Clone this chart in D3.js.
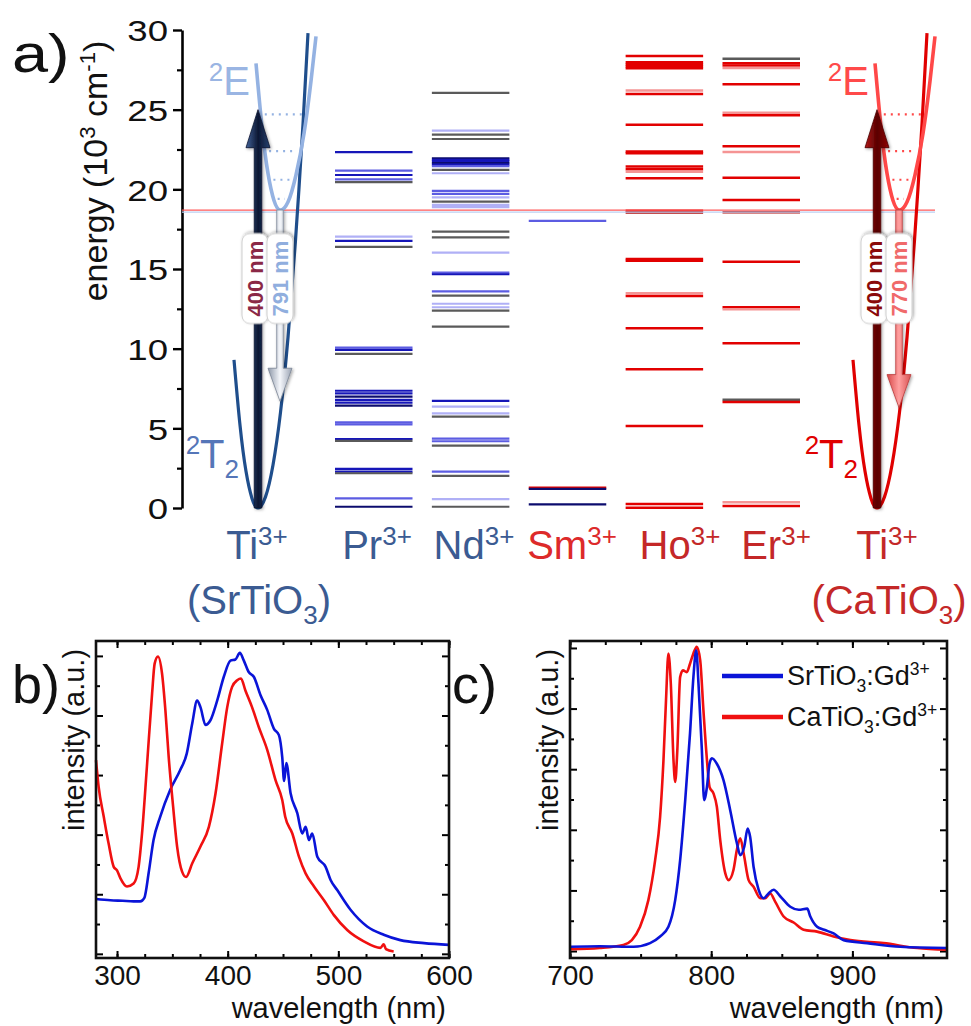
<!DOCTYPE html>
<html>
<head>
<meta charset="utf-8">
<script src="https://cdn.jsdelivr.net/npm/d3@7"></script>
<style>
  body { margin: 0; background: #fff; }
  svg { display: block; font-family: "Liberation Sans", Arial, sans-serif; }
</style>
</head>
<body>
<svg id="fig" width="971" height="1026"></svg>
<script>
// ---------- data: panel a (energy levels, 10^3 cm^-1) ----------
const ions = ["Pr", "Nd", "Sm", "Ho", "Er"];
const energyTicks = [0, 5, 10, 15, 20, 25, 30];

// [energy, tone]
const prLevels = [
  [22.33, "dark"], [21.17, "mid"], [20.9, "dark"], [20.63, "mid"], [20.45, "grey"],
  [17.03, "light"], [16.76, "dark"], [16.39, "grey"],
  [10.06, "mid"], [9.92, "dark"], [9.67, "grey"],
  [7.36, "dark"], [7.2, "dark"], [6.99, "navy"], [6.78, "dark"], [6.61, "dark"], [6.42, "navy"],
  [5.38, "mid"], [5.25, "mid"],
  [4.33, "dark"], [4.21, "grey"],
  [2.45, "dark"], [2.28, "dark"], [2.18, "grey"],
  [0.61, "mid"], [0.08, "navy"]
];
const ndLevels = [
  [26.05, "grey"],
  [23.69, "light"], [23.43, "grey"], [23.16, "grey"],
  [21.95, "navy"], [21.85, "dark"], [21.75, "dark"], [21.65, "navy"], [21.55, "dark"], [21.45, "mid"],
  [21.22, "grey"], [21.01, "light"],
  [19.9, "mid"], [19.71, "mid"], [19.5, "light"], [19.23, "grey"], [19.02, "light"], [18.88, "light"],
  [17.35, "grey"], [16.99, "grey"],
  [16.03, "light"],
  [14.77, "mid"], [14.67, "dark"],
  [13.6, "mid"], [13.33, "grey"],
  [12.82, "light"], [12.6, "light"], [12.39, "grey"],
  [11.38, "grey"],
  [6.72, "dark"], [6.36, "light"], [5.94, "light"], [5.73, "grey"],
  [4.35, "mid"], [4.19, "mid"], [3.91, "grey"],
  [2.28, "mid"], [2.01, "grey"],
  [0.56, "light"], [0.08, "grey"]
];
const smLevels = [[18.02, "mid"], [1.28, "red"], [1.2, "navy"], [0.23, "navy"]];
const hoLevels = [
  [28.37, "red"], [27.98, "red"], [27.85, "red"], [27.72, "red"], [27.6, "red"],
  [26.2, "pale"], [25.99, "red"],
  [24.06, "red"],
  [22.37, "red"], [22.27, "red"],
  [21.43, "red"], [21.26, "red"], [21.11, "pale"], [20.7, "red"],
  [18.66, "red"], [18.54, "dred"],
  [15.62, "red"], [15.52, "red"],
  [13.48, "pale"], [13.3, "red"],
  [11.28, "red"],
  [8.71, "red"],
  [5.15, "red"],
  [0.25, "red"], [0.02, "red"]
];
const erLevels = [
  [28.19, "grey"], [27.92, "red"], [27.77, "red"], [27.62, "pale"],
  [26.6, "red"],
  [24.81, "pale"], [24.65, "red"],
  [22.7, "red"], [22.35, "pale"],
  [20.73, "red"],
  [19.33, "red"],
  [18.56, "dred"],
  [15.46, "red"],
  [12.6, "red"], [12.47, "pale"],
  [10.34, "red"],
  [6.8, "grey"], [6.65, "red"],
  [0.36, "pale"], [0.12, "red"]
];

// Ti3+ configurational diagrams: [coordinate q, energy]
const hosts = ["SrTiO3", "CaTiO3"];
const groundWell = [[-0.48, 9.3], [-0.36, 5.2], [-0.24, 2.3], [-0.12, 0.6], [0, 0], [0.15, 0.7],
  [0.3, 2.7], [0.45, 6.0], [0.6, 10.7], [0.75, 16.8], [0.9, 24.1], [1.0, 29.8]];
const excitedWell = [[-0.04, 27.9], [0.08, 23.9], [0.2, 21.0], [0.32, 19.3], [0.44, 18.7],
  [0.6, 19.2], [0.76, 20.9], [0.92, 23.5], [1.06, 26.8], [1.16, 29.6]];
const vibLevels = [24.7, 22.4, 20.6, 19.4];
const crossingEnergy = 18.7;
const excitationNm = [400, 400];
const emissionNm = [791, 770];
const emissionEnd = [6.7, 6.3];

// ---------- data: panel b (excitation spectra) [nm, intensity] ----------
const bTicks = [300, 400, 500, 600];
const excSr = [[281,0.92],[294,0.9],[305,0.89],[315,0.88],[321,0.88],[324.7,0.94],[328.6,1.36],[333,1.91],
  [339,2.3],[348,2.75],[357,3.08],[363,3.36],[368,3.87],[372.4,4.25],[375.4,4.14],[380,3.84],[384.4,3.92],
  [390.5,4.25],[396.5,4.65],[402.5,4.92],[407,4.94],[411,5.05],[414.6,4.92],[419,4.73],[423.6,4.65],
  [429.7,4.34],[435.8,4.09],[441.7,3.78],[446.3,3.67],[449.3,3.3],[451,2.9],[453,3.2],[456.8,2.7],
  [462.9,2.36],[467.4,2.02],[470.5,2.13],[473.4,1.91],[476.4,2.02],[481,1.63],[488.5,1.46],[493,1.24],
  [499,1.07],[511,0.74],[526,0.46],[541,0.32],[556,0.23],[577.5,0.18],[600,0.15]];
const excCa = [[281,3.25],[283.4,2.8],[288,2.3],[292.4,1.85],[297,1.46],[300,1.4],[303,1.27],[309,1.13],
  [315,1.18],[319.5,1.46],[322.6,2.02],[327,3.14],[331.7,4.37],[334,4.87],[337,4.99],[340.7,4.7],
  [343.7,4.09],[346.7,3.3],[350.7,2.47],[354.3,1.8],[358.8,1.38],[362.4,1.29],[368,1.52],[375.4,1.8],
  [383,2.13],[389,2.69],[395,3.53],[399.6,4.14],[404,4.48],[408.6,4.59],[412,4.62],[416,4.42],[422,4.14],
  [428,3.81],[435.8,3.42],[443.3,2.91],[449.3,2.58],[452,2.3],[458.4,2.02],[464.4,1.63],[470.4,1.35],
  [478,1.13],[487,0.9],[496,0.65],[508,0.4],[523,0.21],[538,0.1],[541,0.16],[543,0.08],[550,0.04]];

// ---------- data: panel c (emission spectra) [nm, intensity] ----------
const cTicks = [700, 800, 900];
const emSr = [[700,0.07],[721,0.08],[745,0.07],[756.7,0.13],[763.8,0.24],[769.7,0.4],[774.5,0.84],[778,1.5],
  [781.6,2.49],[785,3.59],[787.4,4.52],[789.4,4.96],[791,4.41],[793.4,3.31],[795,2.49],[797,2.71],
  [798.8,3.09],[800.5,3.18],[804,3.09],[808.7,2.82],[813.5,2.32],[818.2,1.78],[820.6,1.58],[823.4,1.72],
  [825.8,2.02],[827.6,1.88],[830,1.39],[833.6,1.01],[837.1,0.87],[840.6,0.95],[844.2,1.01],[849,0.9],
  [856,0.73],[862,0.68],[868,0.7],[870.2,0.57],[875,0.4],[880,0.35],[886.7,0.29],[893.8,0.18],
  [910.4,0.13],[934,0.07],[967,0.05]];
const emCa = [[700,0.03],[721,0.05],[737.8,0.1],[743.8,0.18],[749.6,0.4],[755.5,0.84],[760.3,1.5],[763.8,2.21],
  [766.2,3.15],[768,4.14],[769.7,4.91],[771.4,4.41],[773.3,3.15],[774.5,2.79],[776,3.31],[778,4.52],
  [780,4.63],[782.7,4.6],[785,4.74],[787.4,4.91],[789.8,5.02],[792.2,4.8],[794.5,3.97],[797,3.15],
  [798.8,2.71],[801.6,2.6],[804,2.38],[806.4,1.83],[810,1.28],[812.3,1.17],[815.8,1.34],[818.2,1.67],
  [820.6,1.86],[823,1.61],[826.5,1.17],[830,1.06],[834.8,0.87],[838.3,0.87],[841.8,0.95],[845.4,0.81],
  [851.3,0.57],[858.4,0.47],[865.5,0.35],[875,0.32],[886.7,0.24],[898.6,0.18],[922,0.13],[946,0.05],[967,0.02]];

// ---------- helpers ----------
const svg = d3.select("#fig");
svg.append("rect").attr("width", 971).attr("height", 1026).attr("fill", "#fff");
const defs = svg.append("defs");
defs.append("filter").attr("id", "shadow")
  .attr("x", "-50%").attr("y", "-30%").attr("width", "200%").attr("height", "160%")
  .append("feDropShadow").attr("dx", 1.2).attr("dy", 1.2).attr("stdDeviation", 1.4)
  .attr("flood-color", "#000").attr("flood-opacity", 0.35);

function gradient(id, stops) {
  const g = defs.append("linearGradient").attr("id", id)
    .attr("x1", 0).attr("x2", 1).attr("y1", 0).attr("y2", 0);
  stops.forEach((c, i) => g.append("stop").attr("offset", i / (stops.length - 1)).attr("stop-color", c));
}

// text with super/subscripts: parts = [[text, "sup"|"sub"|undefined], ...]
function rich(sel, parts, fs) {
  let shift = 0;
  parts.forEach(([txt, kind]) => {
    const target = kind === "sup" ? -0.36 * fs : kind === "sub" ? 0.25 * fs : 0;
    const t = sel.append("tspan").text(txt).attr("dy", target - shift);
    if (kind) t.attr("font-size", fs * 0.65);
    shift = target;
  });
  return sel;
}

function drawArrow(g, x, y0, y1, shaftW, headW, headL, fill, stroke) {
  const dir = Math.sign(y1 - y0);
  const yb = y1 - dir * headL;
  const p = d3.path();
  p.moveTo(x - shaftW / 2, y0);
  p.lineTo(x - shaftW / 2, yb);
  p.lineTo(x - headW / 2, yb);
  p.lineTo(x, y1);
  p.lineTo(x + headW / 2, yb);
  p.lineTo(x + shaftW / 2, yb);
  p.lineTo(x + shaftW / 2, y0);
  p.closePath();
  g.append("path").attr("d", p.toString()).attr("fill", fill)
    .attr("stroke", stroke).attr("stroke-width", 0.8).attr("filter", "url(#shadow)");
}

function tag(g, x, y, txt, color) {
  const t = g.append("g").attr("transform", `translate(${x},${y}) rotate(-90)`);
  t.append("rect").attr("x", -45).attr("y", -13).attr("width", 90).attr("height", 26).attr("rx", 8)
    .attr("fill", "#fff").attr("stroke", "#cfcfcf").attr("filter", "url(#shadow)");
  t.append("text").attr("text-anchor", "middle").attr("dy", "0.36em")
    .attr("font-size", 22).attr("font-weight", "bold").attr("fill", color).text(txt);
}

// q values where the well crosses energy e on each side of its minimum
function wellCrossings(well, e) {
  const vi = d3.minIndex(well, d => d[1]);
  const interp = (a, b) => a[0] + (e - a[1]) / (b[1] - a[1]) * (b[0] - a[0]);
  let qa = well[0][0], qb = well[well.length - 1][0];
  for (let k = 0; k < vi; k++) if (well[k][1] >= e && well[k + 1][1] <= e) qa = interp(well[k], well[k + 1]);
  for (let k = vi; k < well.length - 1; k++) if (well[k][1] <= e && well[k + 1][1] >= e) qb = interp(well[k], well[k + 1]);
  return [qa, qb];
}

// ---------- panel a ----------
const gA = svg.append("g");
const yE = d3.scaleLinear().domain([0, 30]).range([508, 30]);
const axisX = 182;

const axA = gA.append("g").attr("transform", `translate(${axisX},0)`)
  .call(d3.axisLeft(yE).tickValues(energyTicks).tickSize(9).tickSizeOuter(0).tickPadding(6));
axA.select(".domain").attr("stroke-width", 2.6);
axA.selectAll(".tick line").attr("stroke-width", 2.4);
axA.selectAll(".tick text")
  .attr("x", 0).attr("dy", "0.36em")
  .attr("transform", "translate(-14,0) scale(1.22,1)")
  .style("font-family", "'Liberation Sans', Arial, sans-serif")
  .attr("font-size", 30).attr("fill", "#111");
const axAm = gA.append("g").attr("transform", `translate(${axisX},0)`)
  .call(d3.axisLeft(yE).tickValues(d3.range(2.5, 30, 5)).tickSize(5).tickFormat(""));
axAm.select(".domain").remove();
axAm.selectAll(".tick line").attr("stroke-width", 2.2);

rich(gA.append("text")
  .attr("transform", "translate(107,171) rotate(-90)")
  .attr("text-anchor", "middle").attr("font-size", 34).attr("fill", "#111"),
  [["energy (10"], ["3", "sup"], [" cm"], ["-1", "sup"], [")"]], 34);

gA.append("text").attr("transform", "translate(12,72) scale(1.2,1)")
  .attr("font-size", 54).attr("fill", "#111").text("a)");

// lanthanide levels
const colX = d3.scaleBand().domain(ions).range([335, 800]).paddingInner(0.2);
const toneColor = d3.scaleOrdinal()
  .domain(["navy", "dark", "mid", "light", "grey", "red", "pale", "dred"])
  .range(["#0c0c6e", "#1616b8", "#5c5ce2", "#b0b0f6", "#5a5a5a", "#e20000", "#f59494", "#b21010"]);
const levelSets = [prLevels, ndLevels, smLevels, hoLevels, erLevels];
ions.forEach((ion, i) => {
  gA.append("g").selectAll("line").data(levelSets[i]).join("line")
    .attr("x1", colX(ion)).attr("x2", colX(ion) + colX.bandwidth())
    .attr("y1", d => yE(d[0])).attr("y2", d => yE(d[0]))
    .attr("stroke", d => toneColor(d[1])).attr("stroke-width", i >= 3 ? 2.5 : 2.2);
});

// crossing line
gA.append("line").attr("x1", axisX).attr("x2", 935)
  .attr("y1", yE(crossingEnergy) + 2).attr("y2", yE(crossingEnergy) + 2)
  .attr("stroke", "#bcd0f2").attr("stroke-width", 1.2);
gA.append("line").attr("x1", axisX).attr("x2", 935)
  .attr("y1", yE(crossingEnergy)).attr("y2", yE(crossingEnergy))
  .attr("stroke", "#ff5a5a").attr("stroke-width", 1.3);

// Ti3+ configurational diagrams
const tiCenter = [258, 877];
const qUnit = 50;
const tiStyle = [
  { ground: "#1f4e8c", excited: "#94b2e2",
    up: ["#43639a", "#0b1733", "#26406f"], upStroke: "#0a1430",
    down: ["#8d97a8", "#f5f7fb", "#9aa3b3"], downStroke: "#7a8494",
    upText: "#8a2846", downText: "#90aede", eLabel: "#9ab5e3", tLabel: "#5576b8" },
  { ground: "#e00000", excited: "#ff4848",
    up: ["#b01818", "#5a0000", "#8e0808"], upStroke: "#4a0000",
    down: ["#d84848", "#ffa0a0", "#d85050"], downStroke: "#b83a3a",
    upText: "#8a0a0a", downText: "#f06a6a", eLabel: "#ff4a4a", tLabel: "#e00000" }
];
hosts.forEach((host, i) => {
  const st = tiStyle[i];
  gradient("up" + i, st.up);
  gradient("down" + i, st.down);
  const qx = d3.scaleLinear().domain([0, 1]).range([tiCenter[i], tiCenter[i] + qUnit]);
  const well = d3.line().x(d => qx(d[0])).y(d => yE(d[1])).curve(d3.curveNatural);
  const g = gA.append("g");

  g.append("path").attr("d", well(groundWell)).attr("fill", "none")
    .attr("stroke", st.ground).attr("stroke-width", 3.2);
  g.append("path").attr("d", well(excitedWell)).attr("fill", "none")
    .attr("stroke", st.excited).attr("stroke-width", 3.6);

  vibLevels.forEach(e => {
    const [qa, qb] = wellCrossings(excitedWell, e);
    g.append("line").attr("x1", qx(qa) + 4).attr("x2", qx(qb) - 4)
      .attr("y1", yE(e)).attr("y2", yE(e))
      .attr("stroke", st.excited).attr("stroke-width", 2.2).attr("stroke-dasharray", "2,5");
  });

  const vertex = excitedWell[d3.minIndex(excitedWell, d => d[1])];
  const eTop = 1e4 / excitationNm[i];
  drawArrow(g, qx(0), yE(0), yE(eTop), 7.5, 24, 38, `url(#up${i})`, st.upStroke);
  drawArrow(g, qx(vertex[0]), yE(vertex[1]), yE(emissionEnd[i]), 6.5, 24, 33, `url(#down${i})`, st.downStroke);

  tag(g, qx(0) - 3, yE(14.4), excitationNm[i] + " nm", st.upText);
  tag(g, qx(vertex[0]), yE(14.4), emissionNm[i] + " nm", st.downText);

  rich(g.append("text").attr("x", qx(-0.16)).attr("y", yE(25.9))
    .attr("text-anchor", "end").attr("font-size", 40).attr("fill", st.eLabel),
    [["2", "sup"], ["E"]], 40);
  rich(g.append("text").attr("x", qx(-0.38)).attr("y", yE(2.5))
    .attr("text-anchor", "end").attr("font-size", 40).attr("fill", st.tLabel),
    [["2", "sup"], ["T"], ["2", "sub"]], 40);
});

// column labels
const labelIons = ["Ti", "Pr", "Nd", "Sm", "Ho", "Er", "Ti"];
const labelX = [257, 377, 474, 572, 680, 776, 887];
const labelColor = ["#3b5b92", "#3b5b92", "#3b5b92", "#dd2a2a", "#c42828", "#c42828", "#c42828"];
labelIons.forEach((ion, i) => {
  rich(gA.append("text").attr("x", labelX[i]).attr("y", 559)
    .attr("text-anchor", "middle").attr("font-size", 40).attr("fill", labelColor[i]),
    [[ion], ["3+", "sup"]], 40);
});
const hostX = [259, 889];
const hostColor = ["#3b5b92", "#c42828"];
hosts.forEach((h, i) => {
  rich(gA.append("text").attr("x", hostX[i]).attr("y", 614)
    .attr("text-anchor", "middle").attr("font-size", 40).attr("fill", hostColor[i]),
    [["(" + h.slice(0, 5)], ["3", "sub"], [")"]], 40);
});

// ---------- panels b and c ----------
function spectrumPanel(opt) {
  const g = svg.append("g");
  const x = d3.scaleLinear().domain(opt.xDomain).range([opt.left, opt.right]);
  const y = d3.scaleLinear().domain(opt.yDomain).range([958, 641]);
  const minorX = d3.range(Math.ceil(opt.xDomain[0] / 25) * 25, opt.xDomain[1] + 0.1, 25);
  const majorY = [0, 1, 2, 3, 4, 5];
  const minorY = [0.5, 1.5, 2.5, 3.5, 4.5];

  const axes = [
    [d3.axisBottom(x).tickValues(opt.ticks).tickSize(-7).tickPadding(7).tickFormat(d3.format("d")), 958, 0, true],
    [d3.axisBottom(x).tickValues(minorX).tickSize(-4).tickFormat(""), 958, 0],
    [d3.axisTop(x).tickValues(opt.ticks).tickSize(-7).tickFormat(""), 641, 0],
    [d3.axisTop(x).tickValues(minorX).tickSize(-4).tickFormat(""), 641, 0],
    [d3.axisLeft(y).tickValues(majorY).tickSize(-7).tickFormat(""), 0, opt.left],
    [d3.axisLeft(y).tickValues(minorY).tickSize(-4).tickFormat(""), 0, opt.left],
    [d3.axisRight(y).tickValues(majorY).tickSize(-7).tickFormat(""), 0, opt.right],
    [d3.axisRight(y).tickValues(minorY).tickSize(-4).tickFormat(""), 0, opt.right]
  ];
  axes.forEach(([ax, ty, tx, labels]) => {
    const a = g.append("g").attr("transform", `translate(${tx},${ty})`).call(ax);
    a.select(".domain").remove();
    a.selectAll(".tick line").attr("stroke-width", 2);
    if (labels) a.selectAll(".tick text").attr("font-size", 28).attr("fill", "#111")
      .style("font-family", "'Liberation Sans', Arial, sans-serif");
  });

  const line = d3.line().x(d => x(d[0])).y(d => y(d[1])).curve(d3.curveMonotoneX);
  opt.series.forEach(s => {
    g.append("path").attr("d", line(s.data)).attr("fill", "none")
      .attr("stroke", s.color).attr("stroke-width", 2.6).attr("stroke-linejoin", "round");
  });

  g.append("rect").attr("x", opt.left).attr("y", 641)
    .attr("width", opt.right - opt.left).attr("height", 317)
    .attr("fill", "none").attr("stroke", "#111").attr("stroke-width", 2.6);

  g.append("text").attr("x", opt.right - 3).attr("y", 1018).attr("text-anchor", "end")
    .attr("font-size", 29).attr("fill", "#111").text("wavelength (nm)");
  g.append("text").attr("transform", `translate(${opt.left - 12},740) rotate(-90)`)
    .attr("text-anchor", "middle").attr("font-size", 29).attr("fill", "#111").text("intensity (a.u.)");
  g.append("text").attr("x", opt.tagX).attr("y", 703)
    .attr("font-size", 54).attr("fill", "#111").text(opt.tag);
  return { g, x, y };
}

spectrumPanel({
  xDomain: [281, 600], yDomain: [-0.07, 5.25], left: 96, right: 449, ticks: bTicks, tag: "b)", tagX: 12,
  series: [{ data: excSr, color: "#0a14d8" }, { data: excCa, color: "#f01010" }]
});
const pc = spectrumPanel({
  xDomain: [700, 967], yDomain: [-0.115, 5.115], left: 570, right: 947, ticks: cTicks, tag: "c)", tagX: 452,
  series: [{ data: emCa, color: "#f01010" }, { data: emSr, color: "#0a14d8" }]
});

// legend
const legend = [["SrTiO", "#0a14d8"], ["CaTiO", "#f01010"]];
legend.forEach(([name, color], i) => {
  const ly = 676 + i * 41;
  pc.g.append("line").attr("x1", 722).attr("x2", 783).attr("y1", ly).attr("y2", ly)
    .attr("stroke", color).attr("stroke-width", 4.5);
  rich(pc.g.append("text").attr("x", 787).attr("y", ly + 9).attr("font-size", 27).attr("fill", "#111"),
    [[name], ["3", "sub"], [":Gd"], ["3+", "sup"]], 27);
});
</script>
</body>
</html>
